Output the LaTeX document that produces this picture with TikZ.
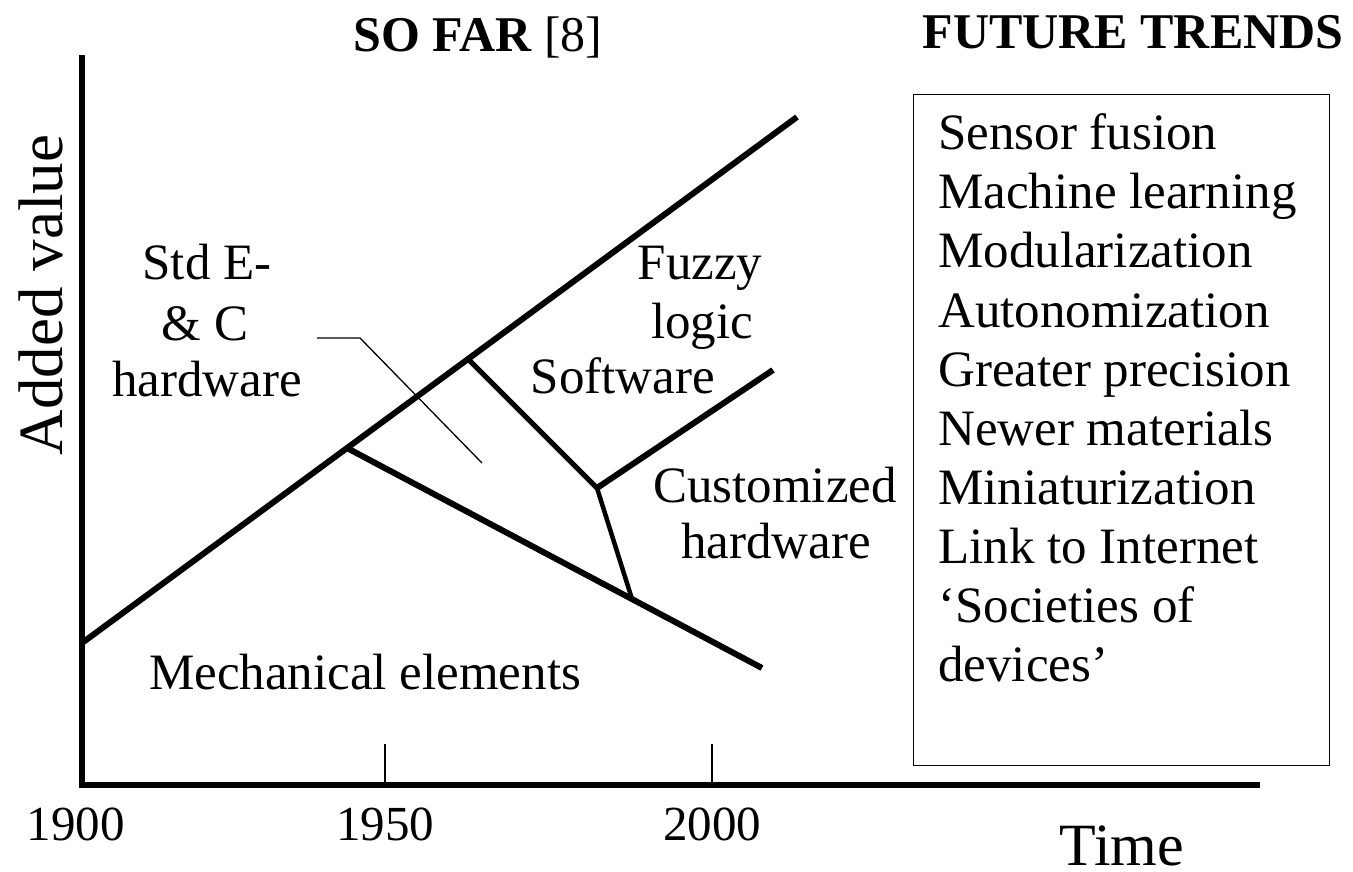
\documentclass[tikz,border=0pt]{standalone}
\usepackage{fontspec}
\setmainfont{Liberation Serif}
\begin{document}
\begin{tikzpicture}[x=1pt,y=-1pt,
  axisline/.style={line width=6pt, line join=miter},
  mainline/.style={line width=6pt},
  midline/.style={line width=5pt},
  thinline/.style={line width=1.3pt},
  lbl/.style={inner sep=0pt, font=\fontsize{51}{59}\selectfont},
  yearlbl/.style={inner sep=0pt, font=\fontsize{49}{56}\selectfont, anchor=base},
  headlbl/.style={inner sep=0pt, font=\fontsize{50}{58}\selectfont\bfseries, anchor=base},
  item/.style={lbl, anchor=base west}]
\useasboundingbox (0,0) rectangle (1353,871);
% axes
\coordinate (ytop) at (82,55);
\coordinate (O) at (82,785);
\coordinate (xend) at (1260,785);
\draw[axisline] (ytop) -- (O) -- (xend);
% ticks
\coordinate (t1a) at (385,744); \coordinate (t1b) at (385,785);
\coordinate (t2a) at (712,744); \coordinate (t2b) at (712,785);
\draw[thinline] (t1a) -- (t1b);
\draw[thinline] (t2a) -- (t2b);
% diagram lines
\coordinate (a0) at (82,643);
\coordinate (a1) at (797,117);
\coordinate (j1) at (347,448);
\coordinate (j2) at (468,359);
\coordinate (j3) at (597,488);
\coordinate (c1) at (773,370);
\coordinate (j4) at (632,599);
\coordinate (b1) at (762,668);
\draw[mainline] (a0) -- (a1);
\draw[mainline] (j1) -- (b1);
\draw[midline] (j2) -- (j3);
\draw[mainline] (j3) -- (c1);
\draw[line width=4.5pt] (j3) -- (j4);
% leader
\coordinate (l0) at (317,338);
\coordinate (l1) at (360,338);
\coordinate (l2) at (482,463);
\draw[thinline] (l0) -- (l1) -- (l2);
% labels
\node[headlbl] (sofar) at (478,51) {SO FAR \mdseries[8]};
\node[headlbl] (future) at (1133,48) {FUTURE TRENDS};
\node[inner sep=0pt, font=\fontsize{63}{70}\selectfont, rotate=90, anchor=base] (yl) at (62,295) {Added value};
\node[inner sep=0pt, font=\fontsize{60}{68}\selectfont, anchor=base] (xl) at (1122,865) {Time};
\node[yearlbl] (y1900) at (76,840) {1900};
\node[yearlbl] (y1950) at (385,840) {1950};
\node[yearlbl] (y2000) at (712,840) {2000};
\node[lbl, anchor=base] (std1) at (207,279) {Std E-};
\node[lbl, anchor=base] (std2) at (205,340) {\& C};
\node[lbl, anchor=base] (std3) at (207,396) {hardware};
\node[lbl, anchor=base] (fz1) at (700,279) {Fuzzy};
\node[lbl, anchor=base] (fz2) at (702,338) {logic};
\node[lbl, anchor=base] (sw) at (623,393) {Software};
\node[lbl, anchor=base] (cu1) at (775,502) {Customized};
\node[lbl, anchor=base] (cu2) at (776,558) {hardware};
\node[lbl, anchor=base] (mech) at (365,689) {Mechanical elements};
% future trends box
\node[draw, line width=1.3pt, inner sep=0pt, minimum width=416pt, minimum height=671pt, anchor=north west] (box) at (913,94) {};
\node[item] (i1) at (938,149) {Sensor fusion};
\node[item] (i2) at (938,208) {Machine learning};
\node[item] (i3) at (938,267) {Modularization};
\node[item] (i4) at (938,327) {Autonomization};
\node[item] (i5) at (938,386) {Greater precision};
\node[item] (i6) at (938,445) {Newer materials};
\node[item] (i7) at (938,504) {Miniaturization};
\node[item] (i8) at (938,563) {Link to Internet};
\node[item] (i9) at (938,622) {‘Societies of};
\node[item] (i10) at (938,681) {devices’};
\end{tikzpicture}
\end{document}
